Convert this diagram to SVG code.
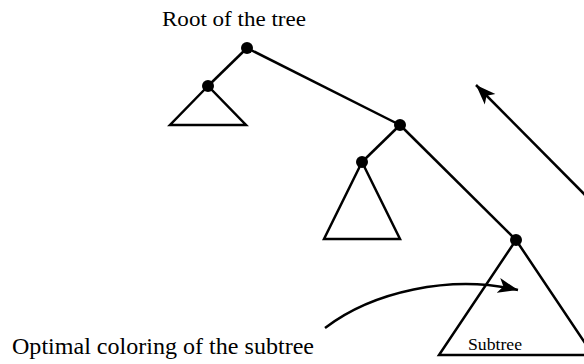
<svg xmlns="http://www.w3.org/2000/svg" width="584" height="364" viewBox="0 0 584 364">
<style>
.e{stroke:#000;stroke-width:2.5;fill:none;stroke-linejoin:miter}
.n{fill:#000}
.t{font-family:"Liberation Serif","DejaVu Serif",serif;fill:#000}
</style>
<defs>
<marker id="ah" markerUnits="userSpaceOnUse" markerWidth="22" markerHeight="18" refX="20" refY="9" orient="auto">
<path d="M0,1.5 L20,9 L0,16.5 L5,9 Z" fill="#000"/>
</marker>
</defs>
<rect width="584" height="364" fill="#fff"/>
<g id="connectors">
<path class="e" d="M247,48 L208,86"/>
<path class="e" d="M247,48 L400,125"/>
<path class="e" d="M400,125 L362,162"/>
<path class="e" d="M400,125 L516,240"/>
<path class="e" d="M600,210 L476,85" marker-end="url(#ah)"/>
<path class="e" d="M325,328 C372,292 450,274 518,290" marker-end="url(#ah)"/>
</g>
<g id="subtree1"><path class="e" d="M208,86 L170,125 L246,125 Z"/></g>
<g id="subtree2"><path class="e" d="M362,162 L324,239 L400,239 Z"/></g>
<g id="subtree3"><path class="e" d="M516,240 L439,355 L593,355 Z"/>
<text class="t" x="468" y="350" font-size="17.5" textLength="54" lengthAdjust="spacingAndGlyphs">Subtree</text></g>
<g id="root"><circle class="n" cx="247" cy="48" r="6"/></g>
<g id="n1"><circle class="n" cx="208" cy="86" r="6"/></g>
<g id="n2"><circle class="n" cx="400" cy="125" r="6"/></g>
<g id="n3"><circle class="n" cx="362" cy="162" r="6"/></g>
<g id="n4"><circle class="n" cx="516" cy="240" r="6"/></g>
<g id="label-root"><text class="t" x="162" y="26" font-size="22" textLength="144" lengthAdjust="spacingAndGlyphs">Root of the tree</text></g>
<g id="label-opt"><text class="t" x="12" y="354" font-size="23" textLength="302" lengthAdjust="spacingAndGlyphs">Optimal coloring of the subtree</text></g>
</svg>
